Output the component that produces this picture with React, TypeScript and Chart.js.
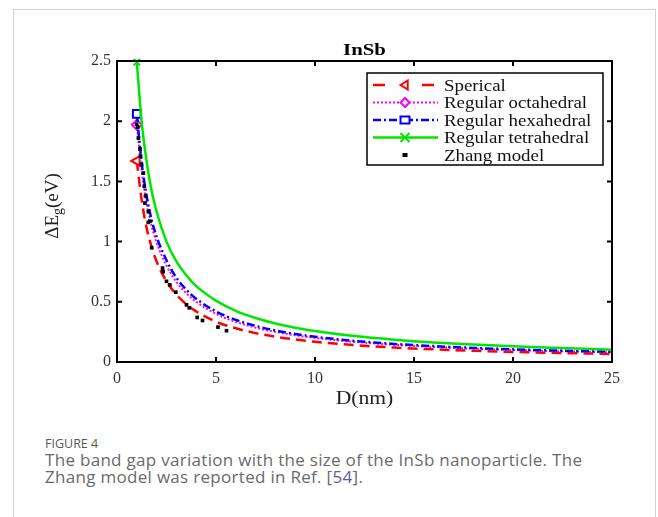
import React, { useEffect, useRef } from 'react';
import { Chart, registerables } from 'chart.js';

Chart.register(...registerables);

// ---- data ----
const dGrid = [1, 1.25, 1.5, 1.75, 2, 2.5, 3, 3.5, 4, 5, 6, 7, 8, 9, 10, 12, 14, 16, 18, 20, 22, 25];
const spherical = [1.67, 1.34, 1.11, 0.955, 0.835, 0.67, 0.56, 0.48, 0.42, 0.335, 0.28, 0.24, 0.21, 0.187, 0.168, 0.14, 0.12, 0.105, 0.093, 0.084, 0.076, 0.067];
const octahedral = [1.97, 1.58, 1.315, 1.13, 0.99, 0.8, 0.665, 0.57, 0.5, 0.4, 0.333, 0.285, 0.25, 0.222, 0.2, 0.167, 0.143, 0.125, 0.111, 0.1, 0.091, 0.08];
const hexahedral = [2.06, 1.65, 1.375, 1.18, 1.04, 0.845, 0.7, 0.6, 0.525, 0.42, 0.35, 0.3, 0.262, 0.233, 0.21, 0.175, 0.15, 0.132, 0.117, 0.105, 0.096, 0.085];
const tetrahedral = [2.49, 1.99, 1.66, 1.42, 1.25, 1.0, 0.835, 0.72, 0.63, 0.51, 0.425, 0.365, 0.32, 0.285, 0.258, 0.215, 0.185, 0.162, 0.145, 0.13, 0.118, 0.102];
const zhangD = [0.99, 1.04, 1.08, 1.16, 1.19, 1.24, 1.33, 1.38, 1.41, 1.44, 1.58, 1.58, 1.66, 1.75, 2.3, 2.33, 2.5, 2.67, 2.97, 3.51, 3.65, 4.05, 4.32, 5.1, 5.53];
const zhangE = [1.975, 1.95, 1.86, 1.77, 1.71, 1.64, 1.57, 1.46, 1.32, 1.38, 1.25, 1.16, 1.17, 0.95, 0.78, 0.75, 0.67, 0.64, 0.58, 0.475, 0.45, 0.37, 0.345, 0.29, 0.26];
const seriesLabels = ['Sperical', 'Regular octahedral', 'Regular hexahedral', 'Regular tetrahedral', 'Zhang model'];
const xRange = [0, 25];
const yRange = [0, 2.5];
const xStep = 5;
const yStep = 0.5;
const chartTitle = 'InSb';
const xTitle = 'D(nm)';

const SERIF = '"Liberation Serif", "Times New Roman", serif';
const RED = '#ff0000';
const MAGENTA = '#ff00ff';
const BLUE = '#0000ff';
const GREEN = '#00e600';

function stretchText(ctx: CanvasRenderingContext2D, text: string, x: number, y: number, sx: number, align: string) {
  ctx.save();
  ctx.translate(x, y);
  ctx.scale(sx, 1);
  ctx.textAlign = 'left';
  const w = ctx.measureText(text).width;
  const ox = align === 'center' ? -w / 2 : align === 'right' ? -w : 0;
  ctx.fillText(text, ox, 0);
  ctx.restore();
}

function marker(ctx: CanvasRenderingContext2D, kind: string, x: number, y: number, r: number, color: string) {
  ctx.save();
  ctx.setLineDash([]);
  ctx.strokeStyle = color;
  ctx.fillStyle = '#fff';
  ctx.lineWidth = 2;
  ctx.beginPath();
  if (kind === 'tri') {
    ctx.moveTo(x - r, y);
    ctx.lineTo(x + r * 0.6, y - r);
    ctx.lineTo(x + r * 0.6, y + r);
    ctx.closePath();
    ctx.fill();
    ctx.stroke();
  } else if (kind === 'diamond') {
    ctx.moveTo(x, y - r);
    ctx.lineTo(x + r, y);
    ctx.lineTo(x, y + r);
    ctx.lineTo(x - r, y);
    ctx.closePath();
    ctx.fill();
    ctx.stroke();
  } else if (kind === 'square') {
    ctx.rect(x - r, y - r * 0.8, 2 * r, 1.6 * r);
    ctx.fill();
    ctx.stroke();
  } else if (kind === 'x') {
    ctx.moveTo(x - r, y - r);
    ctx.lineTo(x + r, y + r);
    ctx.moveTo(x + r, y - r);
    ctx.lineTo(x - r, y + r);
    ctx.stroke();
  } else if (kind === 'dot') {
    ctx.fillStyle = color;
    ctx.fillRect(x - 2.5, y - 2, 5, 4);
  }
  ctx.restore();
}

const decor = {
  id: 'decor',
  afterDraw(chart: any) {
    const ctx: CanvasRenderingContext2D = chart.ctx;
    const a = chart.chartArea;
    const xs = chart.scales.x;
    const ys = chart.scales.y;
    ctx.save();
    // box
    ctx.strokeStyle = '#000';
    ctx.lineWidth = 2;
    ctx.setLineDash([]);
    ctx.strokeRect(a.left, a.top, a.right - a.left, a.bottom - a.top);
    // inward ticks
    ctx.beginPath();
    xs.ticks.forEach((t: any) => {
      const px = xs.getPixelForValue(t.value);
      ctx.moveTo(px, a.bottom);
      ctx.lineTo(px, a.bottom - 5);
      ctx.moveTo(px, a.top);
      ctx.lineTo(px, a.top + 5);
    });
    ys.ticks.forEach((t: any) => {
      const py = ys.getPixelForValue(t.value);
      ctx.moveTo(a.left, py);
      ctx.lineTo(a.left + 5, py);
      ctx.moveTo(a.right, py);
      ctx.lineTo(a.right - 5, py);
    });
    ctx.stroke();

    // title
    ctx.fillStyle = '#000';
    ctx.textBaseline = 'alphabetic';
    ctx.font = `bold 16px ${SERIF}`;
    stretchText(ctx, chartTitle, (a.left + a.right) / 2, 55, 1.3, 'center');

    // x title
    ctx.fillStyle = '#222';
    ctx.font = `18px ${SERIF}`;
    stretchText(ctx, xTitle, (a.left + a.right) / 2, 404, 1.2, 'center');

    // y title: ΔE_g(eV)
    ctx.save();
    ctx.translate(58, 206);
    ctx.rotate(-Math.PI / 2);
    ctx.font = `19px ${SERIF}`;
    const w1 = ctx.measureText('ΔE').width;
    const w3 = ctx.measureText('(eV)').width;
    ctx.font = `14px ${SERIF}`;
    const w2 = ctx.measureText('g').width;
    let sx = -(w1 + w2 + w3) / 2;
    ctx.textAlign = 'left';
    ctx.font = `19px ${SERIF}`;
    ctx.fillText('ΔE', sx, 0);
    sx += w1;
    ctx.font = `14px ${SERIF}`;
    ctx.fillText('g', sx, 4);
    sx += w2;
    ctx.font = `19px ${SERIF}`;
    ctx.fillText('(eV)', sx, 0);
    ctx.restore();

    // legend
    const lx = 367, ly = 73, lw = 236, lh = 92;
    ctx.fillStyle = '#fff';
    ctx.fillRect(lx, ly, lw, lh);
    ctx.strokeStyle = '#000';
    ctx.lineWidth = 1.5;
    ctx.strokeRect(lx, ly, lw, lh);
    const rows = [85, 102.5, 120, 137.5, 155];
    const styles = [
      { color: RED, dash: [12, 37], width: 2.5, kind: 'tri' },
      { color: MAGENTA, dash: [2, 2], width: 2, kind: 'diamond' },
      { color: BLUE, dash: [8, 3, 2, 3], width: 2.5, kind: 'square' },
      { color: GREEN, dash: [], width: 2.5, kind: 'x' },
      { color: '#000', dash: null as any, width: 0, kind: 'dot' },
    ];
    styles.forEach((s, i) => {
      const y = rows[i];
      if (s.dash) {
        ctx.save();
        ctx.strokeStyle = s.color;
        ctx.lineWidth = s.width;
        ctx.setLineDash(s.dash);
        ctx.beginPath();
        ctx.moveTo(373, y);
        ctx.lineTo(438, y);
        ctx.stroke();
        ctx.restore();
      }
      marker(ctx, s.kind, 405, y, 4.5, s.color);
      ctx.fillStyle = '#111';
      ctx.font = `16px ${SERIF}`;
      ctx.textBaseline = 'alphabetic';
      stretchText(ctx, seriesLabels[i], 444, y + 5.5, 1.18, 'left');
    });
    ctx.restore();
  },
};

const firstOnly = (r: number) => (c: any) => (c.dataIndex === 0 ? r : 0);
const mk = (ys: number[]) => dGrid.map((d, i) => ({ x: d, y: ys[i] }));

export default function App() {
  const ref = useRef<HTMLCanvasElement>(null);
  useEffect(() => {
    const canvas = ref.current!;
    const chart = new Chart(canvas, {
      type: 'line',
      data: {
        datasets: [
          {
            label: seriesLabels[4],
            data: zhangD.map((d, i) => ({ x: d, y: zhangE[i] })),
            showLine: false,
            pointStyle: 'rect',
            pointRadius: 2.6,
            pointBackgroundColor: '#000',
            pointBorderColor: '#000',
            pointBorderWidth: 0,
            order: 0,
          },
          {
            label: seriesLabels[3],
            data: mk(tetrahedral),
            borderColor: GREEN,
            borderWidth: 2.5,
            cubicInterpolationMode: 'monotone',
            pointStyle: 'crossRot',
            pointRadius: firstOnly(4.5),
            pointBorderColor: GREEN,
            pointBorderWidth: 2,
            clip: false,
            order: 1,
          },
          {
            label: seriesLabels[2],
            data: mk(hexahedral),
            borderColor: BLUE,
            borderWidth: 2.5,
            borderDash: [8, 3, 2, 3],
            cubicInterpolationMode: 'monotone',
            pointStyle: 'rect',
            pointRadius: firstOnly(5.5),
            pointBorderColor: BLUE,
            pointBackgroundColor: '#fff',
            pointBorderWidth: 2,
            order: 2,
          },
          {
            label: seriesLabels[1],
            data: mk(octahedral),
            borderColor: MAGENTA,
            borderWidth: 2,
            borderDash: [2, 2],
            cubicInterpolationMode: 'monotone',
            pointStyle: 'rectRot',
            pointRadius: firstOnly(5),
            pointBorderColor: MAGENTA,
            pointBackgroundColor: '#fff',
            pointBorderWidth: 2,
            order: 3,
          },
          {
            label: seriesLabels[0],
            data: mk(spherical),
            borderColor: RED,
            borderWidth: 2.5,
            borderDash: [10, 6],
            cubicInterpolationMode: 'monotone',
            pointStyle: 'triangle',
            pointRotation: -90,
            pointRadius: firstOnly(5.5),
            pointBorderColor: RED,
            pointBackgroundColor: '#fff',
            pointBorderWidth: 2,
            order: 4,
          },
        ],
      },
      options: {
        responsive: false,
        animation: false,
        devicePixelRatio: 1,
        layout: { padding: { left: 0, top: 61, right: 46, bottom: 0 } },
        plugins: {
          legend: { display: false },
          tooltip: { enabled: false },
          title: { display: false },
        },
        scales: {
          x: {
            type: 'linear',
            min: xRange[0],
            max: xRange[1],
            afterFit: (s: any) => {
              s.height = 58;
            },
            grid: { display: false, drawTicks: false },
            border: { display: false },
            ticks: {
              stepSize: xStep,
              padding: 7,
              maxRotation: 0,
              color: '#333',
              font: { family: SERIF, size: 16 },
              callback: (v: any) => String(v),
            },
          },
          y: {
            type: 'linear',
            min: yRange[0],
            max: yRange[1],
            afterFit: (s: any) => {
              s.width = 117;
            },
            grid: { display: false, drawTicks: false },
            border: { display: false },
            ticks: {
              stepSize: yStep,
              padding: 6,
              color: '#333',
              font: { family: SERIF, size: 16 },
              callback: (v: any) => String(v),
            },
          },
        },
      },
      plugins: [decor],
    } as any);
    return () => chart.destroy();
  }, []);

  return (
    <div style={{ position: 'absolute', left: 0, top: 0, width: 658, height: 517, background: '#fff', overflow: 'hidden' }}>
      <div
        style={{
          position: 'absolute',
          left: 13,
          top: 9,
          width: 643,
          height: 600,
          border: '1px solid #d2d2d2',
          boxSizing: 'border-box',
        }}
      />
      <canvas ref={ref} width={658} height={420} style={{ position: 'absolute', left: 0, top: 0, width: 658, height: 420 }} />
      <div
        style={{
          position: 'absolute',
          left: 45,
          top: 435,
          font: '12.5px "Open Sans"',
          color: '#5a5a5a',
          whiteSpace: 'nowrap',
        }}
      >
        FIGURE 4
      </div>
      <div
        style={{
          position: 'absolute',
          left: 45,
          top: 450.5,
          font: '17px "Open Sans"',
          letterSpacing: '0.3px',
          lineHeight: '17.8px',
          color: '#6a6a6a',
          whiteSpace: 'nowrap',
        }}
      >
        The band gap variation with the size of the InSb nanoparticle. The
        <br />
        Zhang model was reported in Ref. [<span style={{ color: '#5b5ba8' }}>54</span>].
      </div>
    </div>
  );
}
